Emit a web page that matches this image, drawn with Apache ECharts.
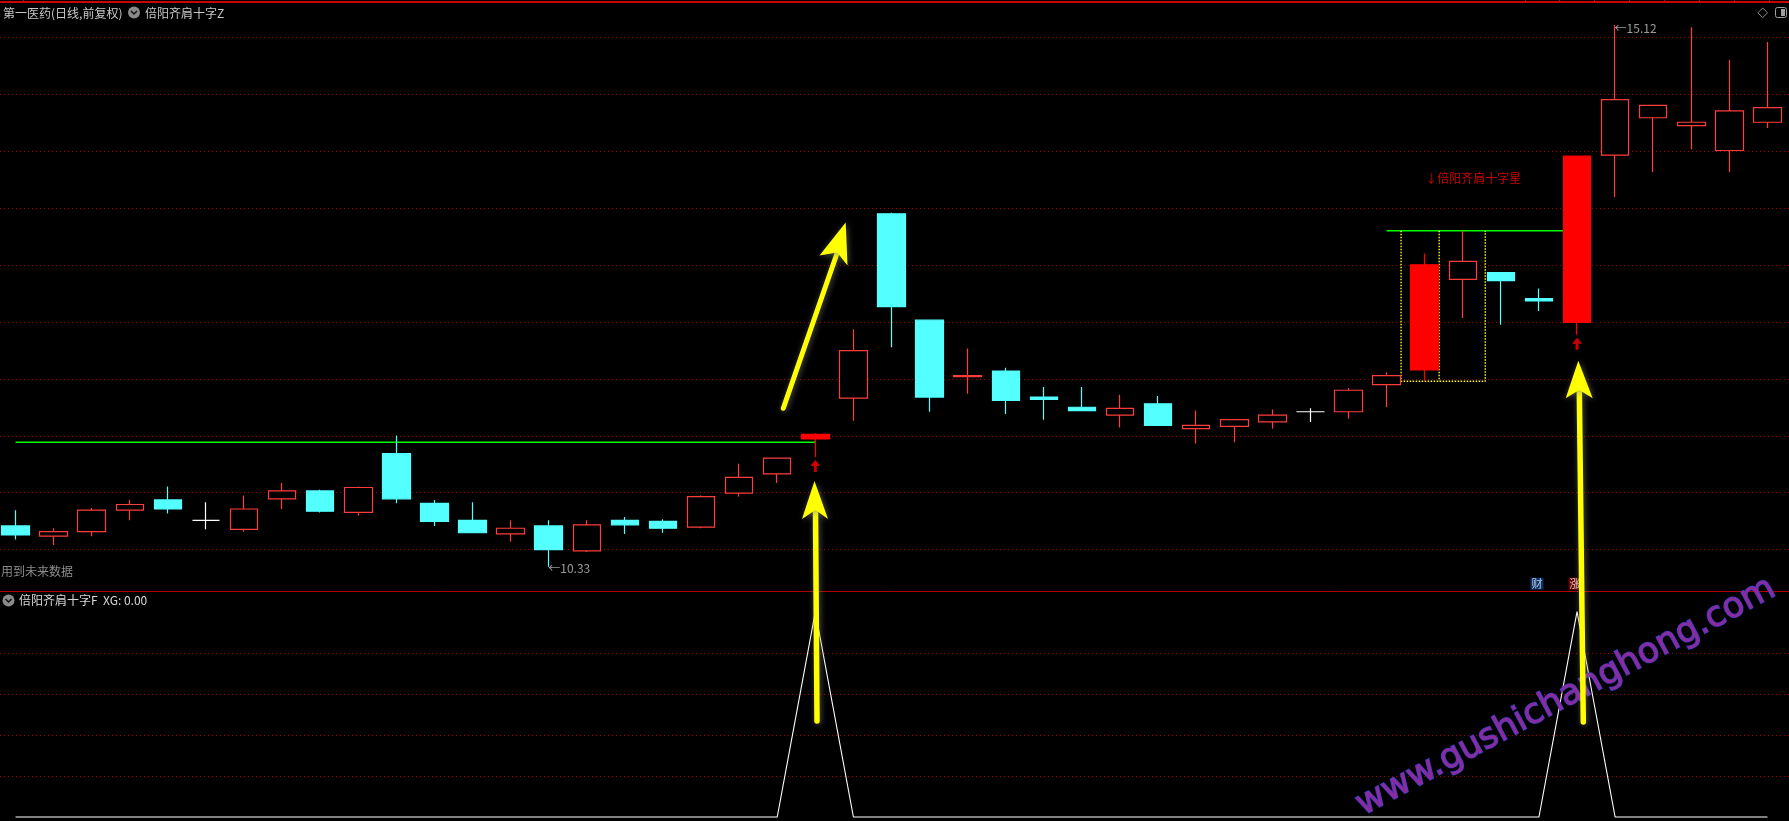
<!DOCTYPE html>
<html>
<head>
<meta charset="utf-8">
<title>第一医药 倍阳齐肩十字</title>
<script src="https://cdn.jsdelivr.net/npm/echarts@6.0.0/dist/echarts.min.js"></script>
<style>
html,body{margin:0;padding:0;background:#000;overflow:hidden;}
#chart{width:1789px;height:821px;}
</style>
</head>
<body>
<div id="chart"></div>
<script>
// ---------------- data (daily K-line, 47 sessions) ----------------
const openPrices  = [10.69,10.60,10.64,10.83,10.92,10.74,10.66,10.93,11.00,10.81,11.33,10.89,10.74,10.62,10.69,10.47,10.74,10.73,10.68,10.98,11.15,11.46,11.82,13.45,12.51,12.01,12.06,11.83,11.74,11.67,11.77,11.55,11.57,11.61,11.70,11.70,11.94,12.07,12.87,12.93,12.70,12.49,13.97,14.30,14.23,14.01,14.26];
const closePrices = [10.61,10.64,10.83,10.88,10.84,10.74,10.84,11.00,10.82,11.03,10.93,10.73,10.63,10.67,10.48,10.70,10.70,10.67,10.95,11.12,11.29,11.50,12.24,12.63,11.83,12.02,11.80,11.81,11.71,11.73,11.58,11.58,11.63,11.67,11.70,11.89,12.02,13.00,13.03,12.86,12.68,13.96,14.46,14.41,14.26,14.36,14.39];
const lowPrices   = [10.57,10.52,10.60,10.74,10.80,10.66,10.64,10.84,10.81,10.78,10.89,10.69,10.63,10.55,10.33,10.46,10.62,10.63,10.67,10.95,11.07,11.30,11.62,12.27,11.70,11.86,11.68,11.63,11.71,11.56,11.58,11.42,11.43,11.55,11.61,11.64,11.74,11.97,12.53,12.47,12.59,12.38,13.60,13.82,14.02,13.82,14.21];
const highPrices  = [10.83,10.67,10.85,10.92,11.04,10.90,10.96,11.07,11.01,11.04,11.49,10.92,10.90,10.74,10.74,10.74,10.77,10.75,10.96,11.24,11.29,11.51,12.43,13.46,12.51,12.26,12.09,11.92,11.92,11.85,11.84,11.71,11.63,11.72,11.73,11.91,12.05,13.10,13.30,12.93,12.79,13.96,15.12,14.41,15.10,14.81,14.97];
// indicator 倍阳齐肩十字F : XG signal
const xgValues = [0,0,0,0,0,0,0,0,0,0, 0,0,0,0,0,0,0,0,0,0, 0,1,0,0,0,0,0,0,0,0, 0,0,0,0,0,0,0,0,0,0, 0,1,0,0,0,0,0];
// candles painted solid red by the indicator
const filledRedIdx = [21, 37, 41];
// green "shoulder" levels drawn by the indicator
const greenLevels = [
  {from: 0,  to: 21, price: 11.43},
  {from: 36, to: 41, price: 13.30}
];
// yellow dotted pattern frame (bar positions, top/bottom price)
const boxBars = [36.38, 37.38, 38.59];
const boxTop = 13.30, boxBottom = 11.97;
const patternLabel = {idx: 37, price: 13.76, text: '↓倍阳齐肩十字星'};
const eventMarks = [
  {idx: 40, price: 10.18, text: '财', bg: '#0f3f80', fg: '#dfe8ff'},
  {idx: 41, price: 10.18, text: '涨', bg: '#820000', fg: '#ffffff'}
];
// horizontal guide levels (unlabelled)
const gridPrices = [15.011, 14.508, 14.005, 13.502, 12.999, 12.496, 11.993, 11.490, 10.987, 10.484];
const xgGridValues = [0.2, 0.4, 0.6, 0.8];

// ---------------- styling ----------------
const RED_LINE = '#ff3c3c', RED_FILL = '#ff0000', CYAN = '#54ffff', GRID_RED = '#a00000';
const FONT = '"Noto Sans CJK SC", "Noto Sans", sans-serif';
const W = 1789, H = 821;

const chart = echarts.init(document.getElementById('chart'), null, {renderer: 'canvas', width: W, height: H});
const N = openPrices.length;
const categories = openPrices.map((_, i) => 'D' + (i + 1));

const candleData = openPrices.map((o, i) => {
  const c = closePrices[i];
  const item = {value: [o, c, lowPrices[i], highPrices[i]]};
  if (filledRedIdx.indexOf(i) >= 0) {
    item.itemStyle = {color: RED_FILL, color0: RED_FILL, borderColor: RED_FILL, borderColor0: RED_FILL, borderColorDoji: RED_FILL};
  } else if (o === c) {
    item.itemStyle = {color: '#fff', color0: '#fff', borderColor: '#fff', borderColor0: '#fff', borderColorDoji: '#fff'};
  }
  return item;
});

const signalIdx = xgValues.map((v, i) => v ? i : -1).filter(i => i >= 0);
let hiIdx = 0, loIdx = 0;
highPrices.forEach((h, i) => { if (h > highPrices[hiIdx]) hiIdx = i; });
lowPrices.forEach((l, i) => { if (l < lowPrices[loIdx]) loIdx = i; });

const series = [];
greenLevels.forEach(g => series.push({
  type: 'line', xAxisIndex: 2, yAxisIndex: 0, data: [[g.from, g.price], [g.to, g.price]],
  symbol: 'none', lineStyle: {color: '#00ff00', width: 1.6}, z: 2, silent: true
}));
series.push({
  type: 'line', xAxisIndex: 2, yAxisIndex: 0,
  data: [[boxBars[0], boxTop], [boxBars[0], boxBottom], [boxBars[2], boxBottom], [boxBars[2], boxTop]],
  symbol: 'none', lineStyle: {color: '#ffff30', width: 1.4, type: [1.5, 1.5]}, z: 2, silent: true
});
series.push({
  type: 'line', xAxisIndex: 2, yAxisIndex: 0,
  data: [[boxBars[1], boxTop], [boxBars[1], boxBottom]],
  symbol: 'none', lineStyle: {color: '#ffff30', width: 1.4, type: [1.5, 1.5]}, z: 2, silent: true
});
series.push({
  type: 'candlestick', xAxisIndex: 0, yAxisIndex: 0, data: candleData, barWidth: 28,
  itemStyle: {color: '#000', color0: CYAN, borderColor: RED_LINE, borderColor0: CYAN, borderColorDoji: '#fff', borderWidth: 1.2},
  z: 3, silent: true
});
series.push({
  type: 'scatter', xAxisIndex: 0, yAxisIndex: 0,
  data: signalIdx.map(i => [i, lowPrices[i]]),
  symbol: 'path://M5,0L10,6L6.5,6L6.5,12L3.5,12L3.5,6L0,6Z', symbolSize: [10, 12], symbolOffset: [0, 9],
  itemStyle: {color: RED_FILL}, z: 4, silent: true
});
series.push({
  type: 'scatter', xAxisIndex: 0, yAxisIndex: 0, symbolSize: 1, itemStyle: {color: 'rgba(0,0,0,0)'},
  data: [
    {value: [hiIdx, highPrices[hiIdx]], label: {offset: [-1, 3]}},
    {value: [loIdx, lowPrices[loIdx]], label: {offset: [-1, 2]}}
  ],
  label: {show: true, position: 'right', distance: 0, color: '#c0c0c0', fontSize: 12, fontFamily: FONT,
    formatter: p => '←' + p.value[1].toFixed(2)},
  z: 6, silent: true
});
series.push({
  type: 'scatter', xAxisIndex: 0, yAxisIndex: 0, symbolSize: 1, itemStyle: {color: 'rgba(0,0,0,0)'},
  data: [[patternLabel.idx, patternLabel.price]],
  label: {show: true, position: 'right', distance: 0, color: '#ff0000', fontSize: 12, fontFamily: FONT,
    formatter: () => patternLabel.text},
  z: 6, silent: true
});
series.push({
  type: 'scatter', xAxisIndex: 0, yAxisIndex: 0, symbolSize: 1, itemStyle: {color: 'rgba(0,0,0,0)'},
  data: eventMarks.map(e => ({
    value: [e.idx, e.price],
    label: {backgroundColor: e.bg, color: e.fg, formatter: () => e.text}
  })),
  label: {show: true, position: 'inside', offset: [-2, 0], fontSize: 11, lineHeight: 12, padding: [0, 1], fontFamily: FONT},
  z: 6, silent: true
});
series.push({
  type: 'line', xAxisIndex: 1, yAxisIndex: 1, data: xgValues, symbol: 'none',
  lineStyle: {color: '#ffffff', width: 1.1}, clip: false, z: 3, silent: true
});

chart.setOption({
  backgroundColor: '#000',
  animation: false,
  grid: [
    {left: -3.5, width: 1790, top: 3, height: 588, containLabel: false, outerBoundsMode: 'none'},
    {left: -3.5, width: 1790, top: 591, height: 226, containLabel: false, outerBoundsMode: 'none'}
  ],
  xAxis: [
    {type: 'category', gridIndex: 0, data: categories, show: false},
    {type: 'category', gridIndex: 1, data: categories, show: false},
    {type: 'value', gridIndex: 0, min: -0.5, max: N - 0.5, show: false},
    {type: 'value', gridIndex: 1, min: -0.5, max: N - 0.5, show: false}
  ],
  yAxis: [
    {type: 'value', gridIndex: 0, min: 10.115, max: 15.3145, show: false},
    {type: 'value', gridIndex: 1, min: 0, max: 1.1, show: false}
  ],
  series: series
});

// ---------------- overlay graphics ----------------
const g = [];
// dotted guide lines, positioned through the chart's own scales
gridPrices.forEach(p => {
  const y = Math.round(chart.convertToPixel({yAxisIndex: 0}, p)) + 0.5;
  g.push({type: 'line', silent: true, z: 0, shape: {x1: 0, y1: y, x2: W, y2: y}, style: {stroke: GRID_RED, lineWidth: 1, lineDash: [1, 3]}});
});
xgGridValues.forEach(v => {
  const y = Math.round(chart.convertToPixel({yAxisIndex: 1}, v)) + 0.5;
  g.push({type: 'line', silent: true, z: 0, shape: {x1: 0, y1: y, x2: W, y2: y}, style: {stroke: GRID_RED, lineWidth: 1, lineDash: [1, 3]}});
});
// frame lines
g.push({type: 'line', silent: true, z: 10, shape: {x1: 0, y1: 2, x2: W, y2: 2}, style: {stroke: '#cc0000', lineWidth: 2}});
[23.5, 1525.5, 1559.5, 1594.5, 1629.5, 1664.5, 1699.5, 1734.5, 1769.5].forEach(x => {
  g.push({type: 'line', silent: true, z: 10, shape: {x1: x, y1: 0, x2: x, y2: 3}, style: {stroke: '#cc0000', lineWidth: 1}});
});
g.push({type: 'line', silent: true, z: 10, shape: {x1: 0, y1: 591.5, x2: W, y2: 591.5}, style: {stroke: '#b00000', lineWidth: 1}});
// titles
function chevronIcon(cx, cy) {
  g.push({type: 'circle', silent: true, z: 20, shape: {cx: cx, cy: cy, r: 6}, style: {fill: '#8a8a8a'}});
  g.push({type: 'polyline', silent: true, z: 21, shape: {points: [[cx - 3, cy - 1.5], [cx, cy + 1.5], [cx + 3, cy - 1.5]]}, style: {stroke: '#111', lineWidth: 1.5, fill: null}});
}
function txt(x, y, s, color, size) {
  g.push({type: 'text', silent: true, z: 20, x: x, y: y, style: {text: s, fill: color, font: (size || 12) + 'px ' + FONT, align: 'left', verticalAlign: 'middle'}});
}
txt(3, 13, '第一医药(日线,前复权)', '#c8c8c8');
chevronIcon(134, 12.5);
txt(145, 13, '倍阳齐肩十字Z', '#c8c8c8');
txt(1, 571, '用到未来数据', '#8c8c8c');
chevronIcon(8.5, 600.5);
txt(19, 600.5, '倍阳齐肩十字F  XG: 0.00', '#d8d8d8');
// top-right icons
g.push({type: 'polygon', silent: true, z: 20, shape: {points: [[1762.7, 8], [1767.5, 12.8], [1762.7, 17.6], [1757.9, 12.8]]}, style: {fill: null, stroke: '#8c8c8c', lineWidth: 1}});
g.push({type: 'rect', silent: true, z: 20, shape: {x: 1775.5, y: 7.5, width: 11, height: 10, r: 2}, style: {fill: null, stroke: '#a0a0a0', lineWidth: 1}});
g.push({type: 'rect', silent: true, z: 20, shape: {x: 1781, y: 9, width: 4, height: 7}, style: {fill: '#a0a0a0'}});
// watermark
g.push({type: 'text', silent: true, z: 90, x: 1566, y: 697, rotation: 0.49,
  style: {text: 'www.gushichanghong.com', fill: '#8a2c9e', stroke: '#3c3cc8', lineWidth: 1.5,
    font: '35px "DejaVu Sans", sans-serif', align: 'center', verticalAlign: 'middle'}});
// hand-drawn yellow annotation arrows
function yellowArrow(tail, notch, tip, left, right, w) {
  const sh = {shadowBlur: 6, shadowColor: 'rgba(140,140,140,0.6)', shadowOffsetX: 1, shadowOffsetY: 1};
  g.push({type: 'polyline', silent: true, z: 100, shape: {points: [tail, notch]},
    style: Object.assign({stroke: '#ffff00', lineWidth: w, lineCap: 'round', fill: null}, sh)});
  g.push({type: 'polygon', silent: true, z: 101, shape: {points: [tip, left, notch, right]},
    style: Object.assign({fill: '#ffff00'}, sh)});
}
yellowArrow([783.3, 408.3], [837.3, 252.5], [845.7, 222.5], [819.5, 255.5], [847.5, 265.5], 5);
yellowArrow([817, 721], [815.5, 510], [814.5, 481], [802, 519], [828, 519], 5.5);
yellowArrow([1583.3, 722], [1579.3, 390], [1578.3, 360.7], [1565.7, 398.3], [1592.7, 398.3], 5.5);

chart.setOption({graphic: {elements: g}});
</script>
</body>
</html>
